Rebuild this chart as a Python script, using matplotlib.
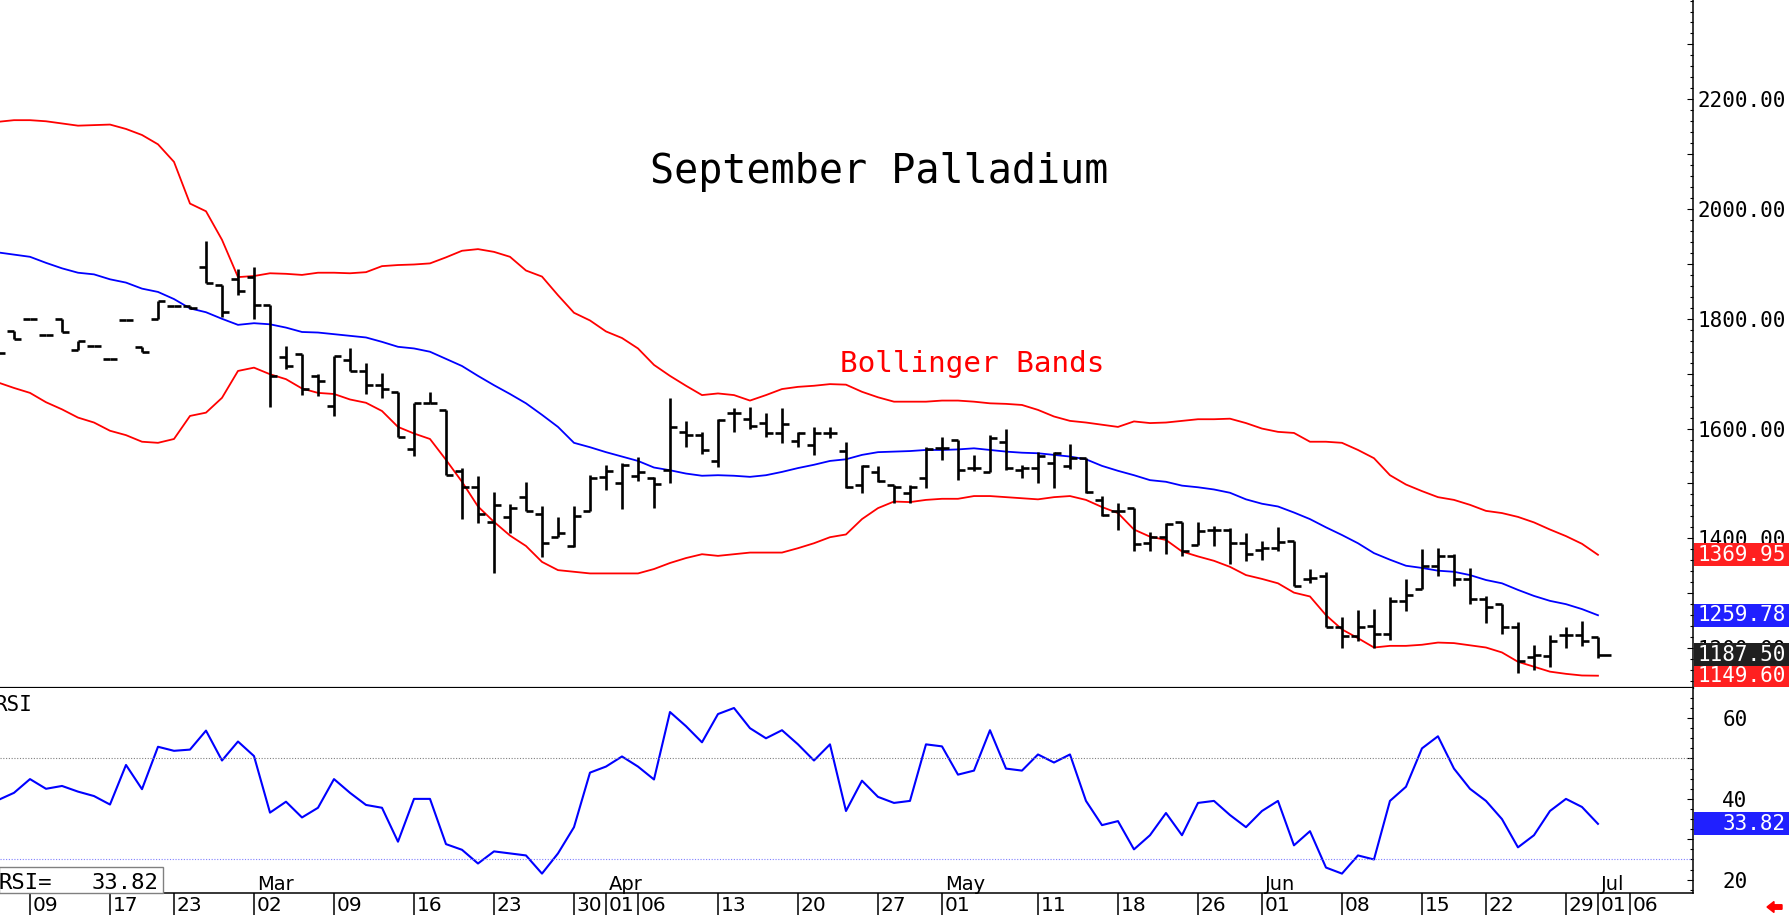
import matplotlib
matplotlib.use("Agg")
import matplotlib.pyplot as plt
import matplotlib.patches as mpatches
from matplotlib.ticker import MultipleLocator, FuncFormatter
import numpy as np
import pandas as pd

W, H = 1789, 915
MONO = "DejaVu Sans Mono"
SANS = "DejaVu Sans"

# trading calendar (Sept palladium, 2026 session)
FIRST_DAY = "2026-02-05"
AXIS_LAST_DAY = "2026-07-06"
HOLIDAYS = ["2026-02-16", "2026-04-03", "2026-05-25", "2026-06-19", "2026-07-03"]

# daily bars, Feb 05 .. Jul 01
OPEN = [1737, 1778, 1799, 1770, 1799, 1744, 1750, 1726, 1798, 1749,
        1800, 1823, 1823, 1894, 1862, 1872, 1876, 1825, 1731, 1736,
        1696, 1641, 1725, 1705, 1679, 1667, 1562, 1646, 1634, 1523,
        1494, 1430, 1439, 1476, 1444, 1403, 1386, 1449, 1512, 1500,
        1514, 1509, 1525, 1594, 1588, 1541, 1628, 1617, 1610, 1592,
        1578, 1570, 1591, 1560, 1497, 1521, 1497, 1482, 1509, 1564,
        1579, 1528, 1521, 1576, 1525, 1528, 1538, 1532, 1546, 1470,
        1449, 1455, 1392, 1403, 1430, 1388, 1416, 1416, 1392, 1379,
        1382, 1396, 1325, 1331, 1238, 1222, 1240, 1226, 1285, 1307,
        1350, 1367, 1325, 1289, 1280, 1238, 1183, 1186, 1224, 1224,
        1220]
HIGH = [1737, 1778, 1799, 1770, 1799, 1760, 1750, 1726, 1798, 1749,
        1832, 1823, 1823, 1942, 1862, 1890, 1895, 1825, 1750, 1736,
        1699, 1732, 1746, 1719, 1702, 1667, 1646, 1667, 1634, 1528,
        1514, 1485, 1463, 1503, 1459, 1439, 1459, 1515, 1534, 1537,
        1549, 1511, 1655, 1613, 1594, 1617, 1637, 1640, 1628, 1637,
        1594, 1603, 1603, 1576, 1534, 1531, 1497, 1497, 1567, 1584,
        1579, 1552, 1588, 1599, 1534, 1558, 1558, 1572, 1546, 1477,
        1465, 1455, 1412, 1427, 1430, 1429, 1423, 1418, 1410, 1396,
        1420, 1396, 1344, 1339, 1256, 1269, 1272, 1293, 1325, 1380,
        1382, 1371, 1345, 1295, 1280, 1248, 1206, 1224, 1239, 1250,
        1220]
LOW = [1737, 1763, 1799, 1770, 1776, 1744, 1750, 1726, 1798, 1739,
       1800, 1823, 1818, 1865, 1804, 1843, 1799, 1640, 1708, 1661,
       1659, 1622, 1705, 1663, 1655, 1585, 1550, 1646, 1515, 1435,
       1428, 1337, 1410, 1449, 1366, 1403, 1385, 1449, 1488, 1453,
       1505, 1455, 1500, 1567, 1554, 1530, 1594, 1599, 1585, 1574,
       1567, 1552, 1582, 1491, 1482, 1503, 1464, 1464, 1491, 1543,
       1506, 1523, 1521, 1525, 1509, 1500, 1491, 1526, 1482, 1441,
       1416, 1377, 1377, 1371, 1368, 1388, 1386, 1353, 1359, 1361,
       1377, 1313, 1318, 1238, 1201, 1213, 1201, 1215, 1268, 1307,
       1331, 1313, 1280, 1245, 1226, 1155, 1160, 1165, 1201, 1204,
       1181]
CLOSE = [1737, 1763, 1799, 1770, 1776, 1760, 1750, 1726, 1798, 1739,
         1832, 1823, 1820, 1865, 1812, 1851, 1825, 1696, 1714, 1672,
         1686, 1732, 1705, 1679, 1672, 1585, 1646, 1647, 1515, 1494,
         1444, 1461, 1455, 1449, 1391, 1409, 1441, 1509, 1523, 1534,
         1521, 1499, 1603, 1588, 1561, 1616, 1628, 1605, 1592, 1608,
         1592, 1591, 1591, 1494, 1532, 1505, 1494, 1494, 1562, 1564,
         1525, 1528, 1582, 1529, 1528, 1550, 1555, 1546, 1485, 1443,
         1449, 1390, 1403, 1426, 1377, 1414, 1416, 1391, 1371, 1382,
         1394, 1313, 1327, 1238, 1222, 1239, 1226, 1285, 1297, 1350,
         1367, 1325, 1289, 1274, 1238, 1177, 1187, 1213, 1224, 1213,
         1187.50]

BB_UPPER = [2159, 2162, 2162, 2160, 2156, 2152, 2153, 2154, 2146, 2135,
            2118, 2086, 2010, 1996, 1944, 1876, 1878, 1883, 1882, 1880,
            1884, 1884, 1883, 1885, 1896, 1898, 1899, 1901, 1912, 1924,
            1927, 1922, 1913, 1888, 1877, 1843, 1811, 1797, 1777, 1765,
            1746, 1716, 1696, 1678, 1661, 1664, 1661, 1651, 1661, 1672,
            1676, 1678, 1681, 1680, 1667, 1657, 1649, 1649, 1649, 1651,
            1651, 1649, 1646, 1645, 1643, 1634, 1622, 1614, 1611, 1607,
            1603, 1613, 1610, 1611, 1614, 1617, 1617, 1618, 1610, 1600,
            1594, 1592, 1576, 1576, 1574, 1561, 1546, 1515, 1498, 1486,
            1475, 1470, 1461, 1450, 1446, 1439, 1429, 1416, 1404, 1390,
            1369.95]
BB_MID = [1921, 1917, 1913, 1902, 1892, 1884, 1881, 1872, 1866, 1855,
          1849, 1836, 1819, 1812, 1800, 1789, 1792, 1790, 1784, 1776,
          1775, 1772, 1769, 1766, 1758, 1749, 1746, 1740, 1727, 1714,
          1696, 1679, 1663, 1646, 1625, 1603, 1574, 1566, 1557, 1549,
          1541, 1529, 1524, 1518, 1514, 1515, 1514, 1512, 1515, 1521,
          1528, 1534, 1541, 1544, 1552, 1557, 1558, 1559, 1561, 1561,
          1562, 1564, 1561, 1558, 1556, 1555, 1552, 1549, 1544, 1532,
          1523, 1515, 1506, 1503, 1496, 1493, 1489, 1483, 1471, 1463,
          1458, 1447, 1435, 1420, 1406, 1391, 1373, 1361, 1350, 1346,
          1341, 1339, 1333, 1324, 1318, 1306, 1295, 1286, 1280, 1271,
          1259.78]
BB_LOWER = [1684, 1674, 1665, 1648, 1635, 1620, 1611, 1596, 1588, 1576,
            1574, 1581, 1623, 1629, 1656, 1705, 1711, 1699, 1690, 1673,
            1665, 1663, 1653, 1647, 1632, 1603, 1591, 1581, 1543, 1503,
            1458, 1430, 1405, 1386, 1357, 1342, 1339, 1336, 1336, 1336,
            1336, 1344, 1355, 1364, 1371, 1368, 1371, 1374, 1374, 1374,
            1382, 1391, 1402, 1407, 1435, 1455, 1467, 1466, 1470, 1472,
            1472, 1477, 1477, 1475, 1473, 1471, 1475, 1477, 1470, 1457,
            1446, 1416, 1403, 1397, 1376, 1367, 1359, 1348, 1333, 1326,
            1318, 1301, 1294, 1260, 1234, 1218, 1201, 1204, 1204, 1206,
            1210, 1209, 1205, 1201, 1192, 1175, 1166, 1157, 1153, 1150,
            1149.60]
RSI = [39.7, 41.5, 44.9, 42.5, 43.2, 41.8, 40.7, 38.6, 48.4, 42.4,
       52.9, 51.9, 52.2, 56.9, 49.5, 54.2, 50.6, 36.6, 39.3, 35.4,
       37.8, 44.9, 41.5, 38.5, 37.8, 29.4, 40.0, 40.0, 28.8, 27.4,
       24.0, 27.0, 26.5, 26.0, 21.5, 26.5, 33.0, 46.5, 48.0, 50.5,
       48.0, 44.8, 61.5, 58.0, 54.0, 61.0, 62.5, 57.5, 55.0, 57.0,
       53.5, 49.5, 53.5, 37.0, 44.5, 40.5, 39.0, 39.5, 53.5, 53.0,
       46.0, 47.0, 57.0, 47.5, 47.0, 51.0, 49.0, 51.0, 39.5, 33.5,
       34.5, 27.5, 31.0, 36.5, 31.0, 39.0, 39.5, 36.0, 33.0, 37.0,
       39.5, 28.5, 32.0, 23.0, 21.5, 26.0, 25.0, 39.5, 43.0, 52.5,
       55.5, 47.5, 42.5, 39.5, 35.0, 28.0, 31.0, 37.0, 40.0, 38.0,
       33.82]


def fx(px):
    return px / W


def fy(py):
    return 1 - py / H


days = pd.bdate_range(FIRST_DAY, AXIS_LAST_DAY, freq="C", holidays=HOLIDAYS)
pos = np.arange(len(days)) - 2          # Feb 09 sits at 0
n = len(CLOSE)
xs = pos[:n]

fig = plt.figure(figsize=(W / 100, H / 100), dpi=100)
ax = fig.add_axes([0, fy(688), fx(1693), 688 / H])
rax = fig.add_axes([0, fy(893), fx(1693), 205 / H], sharex=ax)
dax = fig.add_axes([0, 0, fx(1693), fy(893)], sharex=ax)

ax.set_xlim(-1.875, 103.94)
ax.set_ylim(1127.2, 2381.0)
rax.set_ylim(16.7, 67.45)
dax.set_ylim(0, 1)

# --- price panel -------------------------------------------------------
ax.plot(xs, BB_UPPER, color="#ff0000", lw=1.3)
ax.plot(xs, BB_LOWER, color="#ff0000", lw=1.3)
ax.plot(xs, BB_MID, color="#0000ff", lw=1.3)

bar_kw = dict(color="black", lw=1.9)
ax.vlines(xs, LOW, HIGH, **bar_kw)
ax.hlines(OPEN, xs - 0.42, xs, **bar_kw)
ax.hlines(CLOSE[:-1], xs[:-1], xs[:-1] + 0.42, **bar_kw)
ax.hlines(CLOSE[-1], xs[-1], xs[-1] + 0.8, **bar_kw)

for sp in ("top", "left"):
    ax.spines[sp].set_visible(False)
ax.spines["bottom"].set_linewidth(1.6)
ax.spines["right"].set_linewidth(1.1)
ax.yaxis.tick_right()
ax.yaxis.set_major_locator(MultipleLocator(100))
ax.yaxis.set_minor_locator(MultipleLocator(20))
ax.yaxis.set_major_formatter(FuncFormatter(
    lambda v, _: f"{v:.2f}" if round(v) % 200 == 0 else ""))
ax.tick_params(axis="y", which="major", direction="in", length=4.5, width=0.8,
               pad=3, labelsize=15, labelfontfamily=MONO)
ax.tick_params(axis="y", which="minor", direction="in", length=2.2, width=0.8)
ax.tick_params(axis="x", which="both", bottom=False, labelbottom=False)

fig.text(fx(650), fy(182.6), "September Palladium", family=MONO, size=28.8,
         va="baseline", ha="left")
fig.text(fx(840), fy(371.7), "Bollinger Bands", family=MONO, size=21.2,
         color="#ff0000", va="baseline", ha="left")

# --- RSI panel ---------------------------------------------------------
rax.plot(xs, RSI, color="#0000ff", lw=1.5)
rax.axhline(50, color="#808080", lw=0.8, ls=(0, (1, 1.5)))
rax.axhline(25, color="#8080ff", lw=0.8, ls=(0, (1, 1.5)))
for sp in ("top", "left"):
    rax.spines[sp].set_visible(False)
rax.spines["bottom"].set_linewidth(1.1)
rax.spines["right"].set_linewidth(1.1)
rax.yaxis.tick_right()
rax.yaxis.set_major_locator(MultipleLocator(10))
rax.yaxis.set_minor_locator(MultipleLocator(2.5))
rax.yaxis.set_major_formatter(FuncFormatter(
    lambda v, _: f"{v:.0f}" if round(v) % 20 == 0 else ""))
rax.tick_params(axis="y", which="major", direction="in", length=4.5, width=0.8,
                pad=21, labelsize=15, labelfontfamily=MONO)
rax.tick_params(axis="y", which="minor", direction="in", length=2.2, width=0.8)
rax.tick_params(axis="x", which="both", bottom=False, labelbottom=False)

fig.text(fx(-5), fy(711), "RSI", family=MONO, size=15, va="baseline")
fig.add_artist(mpatches.Rectangle((fx(-1), fy(893)), fx(164), 26 / H,
                                  transform=fig.transFigure, facecolor="white",
                                  edgecolor="#808080", lw=1, zorder=4))
fig.text(fx(-2), fy(889), "RSI=", family=MONO, size=16, va="baseline", zorder=5)
fig.text(fx(158), fy(889), f"{RSI[-1]:.2f}", family=MONO, size=16,
         va="baseline", ha="right", zorder=5)

# month names inside the RSI panel
prev = None
for d, p in zip(days, pos):
    if prev is not None and d.month != prev.month:
        rax.text(p + 0.18, 0.015, d.strftime("%b"), transform=rax.get_xaxis_transform(),
                 family=SANS, size=14, va="baseline", ha="left")
    prev = d

# --- date row ----------------------------------------------------------
dax.axis("off")
cands = []
prev = None
for d, p in zip(days, pos):
    if prev is not None and (d.month != prev.month or d.isocalendar()[1] != prev.isocalendar()[1]):
        cands.append((p, d))
    prev = d
labels = []
for p, d in cands:
    if labels and p - labels[-1][0] < 2:
        continue
    labels.append((p, d))
for p, d in labels:
    dax.vlines(p, 0, 1, color="black", lw=1.1)
    dax.text(p + 0.15, 0.86, d.strftime("%d"), family=SANS, size=14.5,
             va="top", ha="left")

# --- value boxes on the right scale -----------------------------------
def value_box(axis, value, text, face):
    yc = axis.transData.transform((0, value))[1] / fig.bbox.height
    h = 23 / H
    fig.add_artist(mpatches.Rectangle((fx(1694), yc - h / 2), fx(W - 1694), h,
                                      transform=fig.transFigure, facecolor=face,
                                      edgecolor="none", zorder=5))
    fig.text(fx(1786), yc, text, color="white", family=MONO, size=15,
             ha="right", va="center", zorder=6)


value_box(ax, BB_UPPER[-1], f"{BB_UPPER[-1]:.2f}", "#ff2020")
value_box(ax, BB_MID[-1], f"{BB_MID[-1]:.2f}", "#2020ff")
value_box(ax, BB_LOWER[-1], f"{BB_LOWER[-1]:.2f}", "#ff2020")
value_box(ax, CLOSE[-1], f"{CLOSE[-1]:.2f}", "#202020")
value_box(rax, RSI[-1], f"{RSI[-1]:.2f}", "#2020ff")

fig.add_artist(mpatches.FancyArrow(17.82, 0.08, -0.15, 0, width=0.045,
                                   head_width=0.11, head_length=0.07,
                                   length_includes_head=True,
                                   transform=fig.dpi_scale_trans,
                                   color="#ff0000", zorder=6))

fig.savefig("out.png", dpi=100)
